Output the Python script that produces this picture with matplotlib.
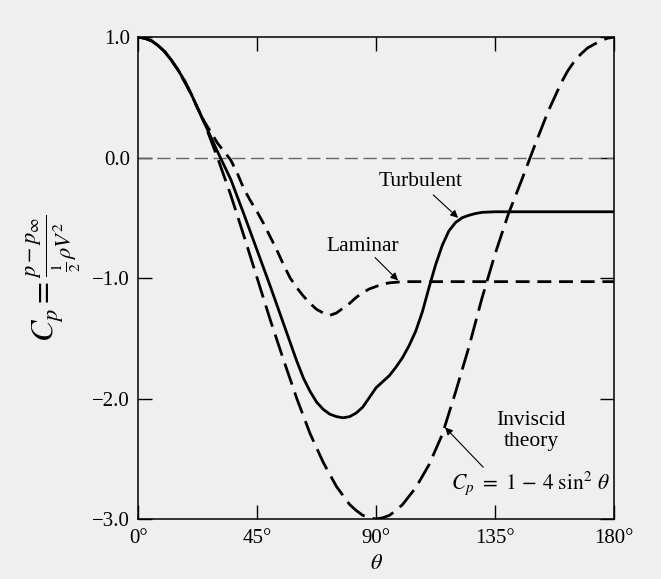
import numpy as np
import matplotlib
matplotlib.use("Agg")
import matplotlib.pyplot as plt

plt.rcParams['font.family'] = ['Liberation Serif', 'DejaVu Serif']
plt.rcParams['mathtext.fontset'] = 'stix'

# angles (deg) and pressure coefficients
theta_inv = [0, 2.5, 5, 7.5, 10, 12.5, 15, 20, 25, 30, 35, 40, 45, 50, 55, 60, 65, 70, 75, 80, 82.5, 85,
             87.5, 90, 92.5, 95, 97.5, 100, 105, 110, 115, 120, 125, 130, 135, 140, 145, 150, 155, 160,
             162.5, 165, 167.5, 170, 172.5, 175, 177.5, 180]
cp_inv = [1.0, 0.99, 0.97, 0.93, 0.88, 0.81, 0.73, 0.53, 0.29, 0.0, -0.31, -0.65, -1.0, -1.35, -1.68,
          -2.0, -2.29, -2.53, -2.73, -2.88, -2.93, -2.97, -2.99, -3.0, -2.99, -2.97, -2.93, -2.88, -2.74,
          -2.55, -2.30, -1.95, -1.58, -1.17, -0.80, -0.47, -0.19, 0.10, 0.38, 0.62, 0.72, 0.80, 0.86,
          0.91, 0.94, 0.97, 0.99, 1.0]

theta_turb = [0, 2.5, 5, 7.5, 10, 12.5, 15, 17.5, 20, 22.5, 25, 30, 35, 40, 45, 50, 55, 60, 62.5, 65,
              67.5, 70, 72.5, 75, 77.5, 80, 82.5, 85, 87.5, 90, 92.5, 95, 97.5, 100, 102.5, 105, 107.5,
              110, 112.5, 115, 117.5, 120, 122.5, 125, 127.5, 130, 135, 180]
cp_turb = [1.0, 0.99, 0.97, 0.93, 0.88, 0.81, 0.73, 0.64, 0.53, 0.41, 0.29, 0.05, -0.18, -0.47, -0.77,
           -1.07, -1.38, -1.69, -1.83, -1.94, -2.03, -2.09, -2.13, -2.15, -2.16, -2.15, -2.12, -2.07,
           -1.99, -1.91, -1.86, -1.81, -1.74, -1.66, -1.56, -1.44, -1.28, -1.08, -0.89, -0.73, -0.61,
           -0.54, -0.50, -0.48, -0.465, -0.455, -0.45, -0.45]

theta_lam = [0, 2.5, 5, 7.5, 10, 12.5, 15, 17.5, 20, 22.5, 25, 27.5, 30, 32.5, 35, 37.5, 40, 42.5, 45,
             47.5, 50, 52.5, 55, 57.5, 60, 62.5, 65, 67.5, 70, 72.5, 75, 77.5, 80, 82.5, 85, 87.5, 90,
             92.5, 95, 97.5, 100, 180]
cp_lam = [1.0, 0.99, 0.97, 0.93, 0.88, 0.81, 0.73, 0.64, 0.53, 0.41, 0.30, 0.21, 0.12, 0.05, -0.02,
          -0.13, -0.26, -0.36, -0.45, -0.55, -0.66, -0.77, -0.89, -1.0, -1.08, -1.15, -1.21, -1.26,
          -1.29, -1.31, -1.29, -1.25, -1.21, -1.16, -1.12, -1.09, -1.07, -1.05, -1.04, -1.035, -1.03,
          -1.03]

x_ticks = [0, 45, 90, 135, 180]
x_labels = ['0°', '45°', '90°', '135°', '180°']
y_ticks = [1.0, 0.0, -1.0, -2.0, -3.0]
y_labels = ['1.0', '0.0', '\u22121.0', '\u22122.0', '\u22123.0']

bg = '#efefef'
fig = plt.figure(figsize=(6.61, 5.79), dpi=100, facecolor=bg)
ax = fig.add_axes([0.209, 0.1036, 0.72, 0.8324], facecolor=bg)

ax.axhline(0, color='#666666', lw=1.0, dashes=(9.5, 4))
ax.plot(theta_inv, cp_inv, color='black', lw=2.0, dashes=(8, 3))
ax.plot(theta_turb, cp_turb, color='black', lw=2.0)
ax.plot(theta_lam, cp_lam, color='black', lw=2.0, dashes=(5, 2.8))

ax.set_xlim(0, 180)
ax.set_ylim(-3, 1)
ax.set_xticks(x_ticks)
ax.set_xticklabels(x_labels)
ax.set_yticks(y_ticks)
ax.set_yticklabels(y_labels)
ax.tick_params(direction='in', length=10, width=1, top=True, right=True, labelsize=15)
ax.tick_params(axis='y', pad=6)
ax.tick_params(axis='x', pad=7)
for s in ax.spines.values():
    s.set_linewidth(1.1)

ax.set_ylabel(r'$C_p = \frac{p - p_\infty}{\frac{1}{2}\,\rho V^2}$', fontsize=23)
ax.yaxis.set_label_coords(-0.115, 0.5)
ax.set_xlabel(r'$\theta$', fontsize=16, va='top')
ax.xaxis.set_label_coords(0.5, -0.075)

arrow = dict(arrowstyle='-|>', color='black', lw=0.8, mutation_scale=11, shrinkA=0, shrinkB=0)
ax.text(106.7, -0.20, 'Turbulent', fontsize=15.5, ha='center', va='center')
ax.annotate('', xy=(121, -0.50), xytext=(111.6, -0.31), arrowprops=arrow)
ax.text(85.1, -0.74, 'Laminar', fontsize=15.5, ha='center', va='center')
ax.annotate('', xy=(98.3, -1.02), xytext=(89.6, -0.83), arrowprops=arrow)
ax.text(148.6, -2.27, 'Inviscid\ntheory', fontsize=15.5, ha='center', va='center', linespacing=1.1)
ax.text(148.3, -2.70, r'$C_p\ =\ 1\,-\,4\ \sin^2\,\theta$', fontsize=15.5, ha='center', va='center')
ax.annotate('', xy=(116.1, -2.24), xytext=(130.5, -2.57), arrowprops=arrow)

fig.savefig('out.png', dpi=100, facecolor=bg)
